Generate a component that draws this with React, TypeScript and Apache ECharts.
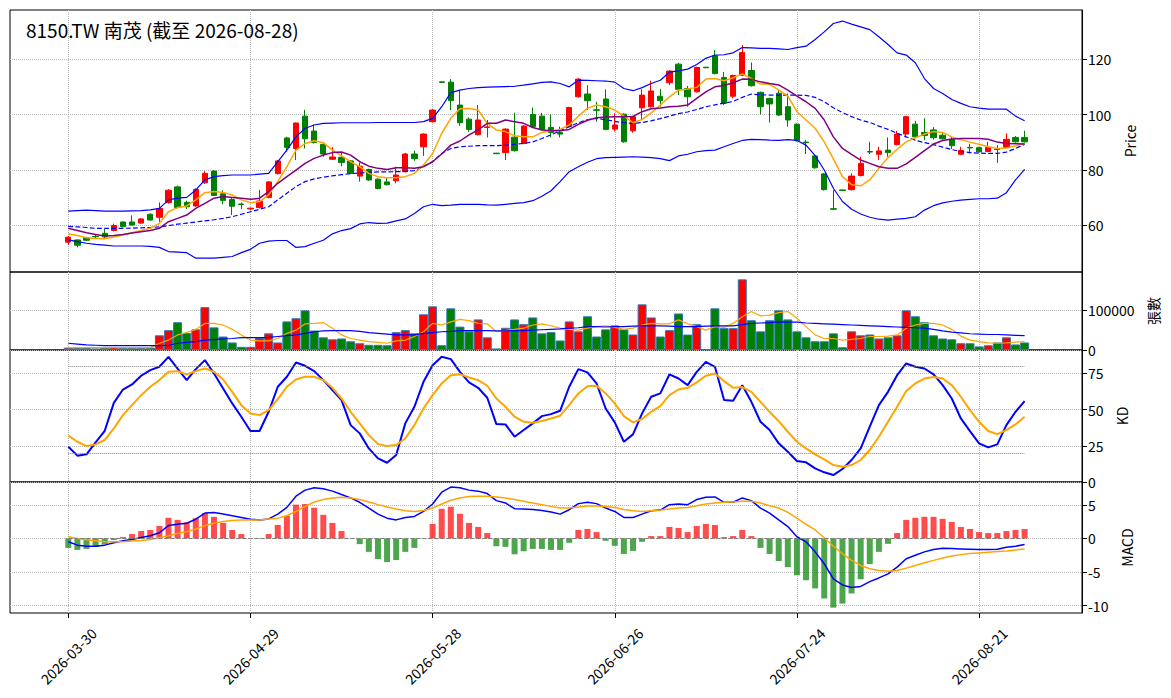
import React, { useEffect, useRef } from "react";
import * as echarts from "echarts";

// 8150.TW 南茂, 2026-03-30 .. 2026-08-28 (one value per trading day)
const tickIndex = [0, 20, 40, 60, 80, 100];
const tickLabels = ["2026-03-30", "2026-04-29", "2026-05-28", "2026-06-26", "2026-07-24", "2026-08-21"];

const opens = [
  53.9, 54.7, 55.5, 55.95, 57.1, 58.1, 61.2, 61.2, 60.8, 64.0,
  62.9, 68.2, 73.9, 68.3, 67.0, 75.4, 79.6, 71.4, 69.3, 67.7,
  65.9, 66.4, 70.1, 78.7, 91.6, 87.8, 99.5, 94.1, 89.3, 83.9,
  84.6, 83.3, 77.8, 80.2, 76.7, 75.7, 76.1, 79.4, 85.8, 88.4,
  97.5, 111.9, 111.8, 103.5, 98.4, 92.8, 95.4, 86.1, 86.3, 91.9,
  89.6, 100.1, 99.5, 95.4, 93.6, 95.7, 106.5, 107.5, 101.8, 105.7,
  94.8, 100.2, 94.2, 102.5, 102.9, 106.7, 111.6, 118.3, 109.5, 108.3,
  117.2, 121.3, 113.5, 106.7, 114.3, 116.0, 108.1, 105.9, 107.8, 102.9,
  96.6, 90.1, 85.1, 78.6, 66.0, 72.8, 72.9, 78.0, 86.7, 85.7,
  87.2, 89.2, 93.0, 96.6, 93.6, 94.5, 92.6, 91.0, 85.7, 88.2,
  88.1, 86.7, 87.6, 88.2, 91.8, 91.8,
];
const closes = [
  55.7, 52.8, 54.6, 55.85, 55.8, 59.9, 59.5, 60.1, 62.3, 61.9,
  66.1, 72.7, 66.4, 66.7, 73.0, 78.8, 70.8, 69.0, 66.9, 67.5,
  66.2, 68.8, 75.7, 83.3, 88.2, 97.0, 91.3, 90.0, 85.8, 84.7,
  82.7, 78.8, 81.4, 76.4, 73.3, 74.7, 78.2, 85.8, 84.1, 93.0,
  101.7, 111.7, 105.1, 97.1, 94.7, 98.1, 95.6, 85.9, 94.8, 87.0,
  95.9, 95.7, 94.7, 93.6, 93.0, 102.6, 112.9, 105.1, 101.6, 94.7,
  96.3, 90.2, 99.3, 107.1, 108.6, 105.1, 115.8, 109.2, 106.5, 117.1,
  117.0, 114.9, 104.1, 114.2, 122.5, 110.5, 102.9, 103.9, 99.9, 98.1,
  90.6, 89.9, 80.8, 72.9, 65.8, 72.6, 77.8, 82.4, 86.5, 86.9,
  86.3, 93.0, 99.3, 92.0, 92.5, 91.7, 91.3, 88.8, 87.1, 88.0,
  86.6, 88.2, 87.4, 91.1, 90.2, 90.2,
];
const lows = [
  52.9, 52.0, 54.3, 55.3, 55.4, 57.8, 59.3, 59.9, 60.6, 61.7,
  61.1, 67.8, 66.2, 65.9, 66.6, 75.0, 70.6, 67.6, 63.7, 65.9,
  65.6, 66.1, 69.8, 78.4, 86.6, 83.6, 87.8, 89.6, 84.8, 83.6,
  81.3, 78.5, 75.8, 76.1, 73.0, 74.4, 75.2, 79.1, 83.3, 85.1,
  97.2, 111.6, 101.7, 96.0, 93.8, 92.5, 91.8, 85.8, 83.6, 86.7,
  89.3, 95.4, 94.4, 91.8, 91.8, 95.4, 106.2, 101.7, 97.5, 94.4,
  93.9, 89.9, 93.5, 98.1, 102.6, 102.9, 110.7, 107.1, 102.9, 108.0,
  116.9, 114.6, 103.5, 105.9, 114.0, 110.2, 100.1, 97.2, 99.6, 95.7,
  90.3, 85.8, 80.5, 72.6, 65.7, 72.5, 72.6, 77.7, 85.8, 83.6,
  84.8, 88.9, 91.8, 91.7, 90.8, 91.0, 91.0, 87.6, 85.4, 86.0,
  86.3, 86.4, 82.6, 87.9, 89.9, 89.9,
];
const highs = [
  56.1, 54.9, 55.8, 56.5, 58.6, 60.6, 61.4, 63.6, 62.6, 64.3,
  68.3, 73.1, 74.4, 68.9, 73.4, 79.6, 79.9, 72.7, 70.1, 68.2,
  66.4, 72.8, 76.0, 83.6, 92.0, 97.2, 101.8, 96.5, 89.6, 88.3,
  86.5, 83.6, 82.7, 80.5, 77.0, 77.1, 81.2, 86.2, 87.0, 93.3,
  102.0, 112.0, 112.9, 108.8, 99.0, 103.5, 98.1, 86.2, 95.1, 100.7,
  96.2, 102.6, 100.7, 100.1, 95.7, 102.9, 113.2, 110.7, 104.7, 109.2,
  100.5, 100.5, 99.6, 109.2, 112.3, 109.4, 116.1, 118.8, 110.4, 117.4,
  117.3, 123.4, 115.5, 114.5, 125.2, 118.9, 108.4, 106.2, 109.3, 107.7,
  96.9, 90.9, 85.4, 78.9, 72.8, 72.9, 78.8, 84.8, 90.2, 88.4,
  91.8, 94.2, 99.6, 97.8, 98.7, 95.5, 93.5, 92.0, 88.4, 89.5,
  88.4, 90.2, 89.0, 93.3, 92.3, 94.2,
];
const volumes = [
  6000, 5000, 5000, 4000, 6000, 7000, 5000, 6000, 5000, 6000,
  37000, 50000, 70000, 43000, 52000, 108000, 57000, 34000, 19000, 8000,
  8000, 31000, 42000, 19000, 72000, 80000, 100000, 49000, 32000, 27000,
  29000, 22000, 17000, 13000, 13000, 12000, 45000, 50000, 42000, 90000,
  110000, 12000, 105000, 59000, 47000, 77000, 32000, 4000, 56000, 77000,
  65000, 82000, 42000, 45000, 24000, 72000, 47000, 85000, 34000, 52000,
  62000, 52000, 39000, 115000, 82000, 34000, 50000, 92000, 39000, 65000,
  1500, 105000, 55000, 55000, 178000, 75000, 47000, 75000, 100000, 77000,
  47000, 32000, 22000, 22000, 42000, 7000, 47000, 37000, 39000, 29000,
  32000, 37000, 100000, 85000, 70000, 37000, 29000, 27000, 17000, 17000,
  9000, 12000, 19000, 32000, 14000, 19000,
];
// volume averages, thousands of lots
const volMa5 = [
  6, 6, 6, 6, 6, 6, 6, 6, 6, 6,
  17, 25, 38, 44, 52, 67, 67, 63, 52, 38,
  25, 23, 23, 29, 42, 50, 66, 67, 69, 55,
  38, 29, 25, 21, 19, 17, 23, 25, 34, 46,
  67, 63, 71, 77, 74, 67, 66, 46, 49, 52,
  55, 63, 66, 61, 55, 52, 50, 55, 59, 61,
  57, 52, 55, 63, 67, 66, 66, 76, 66, 59,
  50, 59, 57, 67, 84, 97, 86, 88, 94, 97,
  80, 59, 38, 29, 29, 25, 27, 29, 34, 34,
  35, 38, 55, 63, 67, 67, 63, 52, 35, 25,
  21, 18, 17, 18, 20, 21,
];
const volMa20 = [
  17, 15, 13, 12, 11, 11, 11, 11, 11, 11,
  11, 12, 17, 19, 21, 25, 26, 28, 29, 31,
  31, 31, 32, 34, 36, 38, 42, 46, 48, 49,
  49, 49, 47, 44, 42, 40, 38, 38, 38, 42,
  44, 46, 47, 49, 49, 49, 49, 48, 48, 49,
  49, 50, 51, 52, 53, 55, 56, 59, 59, 58,
  59, 59, 60, 61, 61, 61, 60, 59, 59, 59,
  60, 61, 61, 61, 64, 67, 68, 69, 71, 70,
  70, 68, 67, 66, 65, 64, 63, 62, 61, 60,
  59, 58, 57, 56, 55, 52, 48, 45, 43, 41,
  40, 39, 39, 38, 37, 36,
];
const ma5 = [
  56.9, 56.3, 55.5, 55.2, 55.1, 55.8, 56.5, 57.3, 58.1, 58.9,
  60.7, 64.9, 66.4, 67.0, 69.2, 71.8, 72.2, 71.9, 71.0, 69.2,
  68.2, 68.6, 71.0, 75.8, 81.2, 87.2, 89.6, 90.6, 89.9, 87.2,
  85.1, 83.0, 81.2, 78.8, 77.6, 77.2, 77.2, 77.6, 78.8, 81.8,
  86.0, 93.3, 98.7, 102.2, 102.3, 101.7, 96.9, 94.5, 93.9, 92.4,
  92.0, 92.0, 93.6, 94.2, 94.7, 96.3, 99.5, 102.3, 103.5, 102.9,
  101.7, 99.5, 97.1, 98.3, 100.7, 103.5, 106.5, 108.9, 109.3, 109.9,
  112.9, 113.1, 112.3, 113.4, 114.8, 113.1, 111.1, 111.0, 109.0, 106.7,
  101.1, 98.1, 95.1, 90.2, 84.0, 77.6, 74.7, 74.3, 76.4, 80.6,
  84.5, 87.5, 90.2, 91.7, 93.0, 93.9, 93.6, 92.0, 91.0, 90.1,
  89.3, 88.4, 87.8, 88.0, 88.7, 89.6,
];
const ma10 = [
  58.9, 58.1, 57.3, 56.7, 56.1, 56.3, 56.7, 57.2, 57.7, 58.1,
  58.9, 61.3, 62.5, 63.7, 66.1, 67.9, 69.8, 70.4, 70.1, 69.8,
  69.4, 69.8, 72.2, 75.2, 77.6, 80.0, 82.4, 84.2, 85.4, 86.3,
  86.5, 85.4, 83.0, 81.4, 80.6, 80.2, 80.8, 80.8, 80.6, 81.2,
  83.0, 85.8, 89.0, 90.5, 92.7, 94.5, 96.9, 96.9, 98.1, 97.5,
  96.9, 95.4, 94.5, 94.2, 94.2, 94.7, 96.5, 98.0, 98.9, 99.2,
  99.3, 99.3, 99.4, 101.1, 102.2, 102.4, 102.9, 103.1, 103.5, 105.9,
  108.3, 110.1, 110.6, 111.6, 112.9, 112.8, 111.9, 111.3, 110.8, 108.9,
  106.7, 104.7, 102.3, 98.1, 92.0, 87.8, 85.7, 83.6, 82.4, 81.2,
  80.6, 80.6, 82.2, 84.6, 87.0, 89.4, 90.7, 91.2, 91.4, 91.4,
  91.4, 91.1, 90.1, 89.6, 89.5, 89.4,
];
const bbUpper = [
  65.1, 65.3, 65.5, 65.3, 65.1, 65.1, 65.1, 65.2, 65.3, 65.6,
  66.1, 69.2, 69.8, 70.1, 72.8, 76.4, 77.6, 78.0, 78.2, 78.2,
  78.2, 78.5, 78.8, 83.0, 87.2, 92.0, 95.1, 96.3, 96.9, 97.0,
  97.1, 97.1, 97.1, 97.1, 97.2, 97.2, 97.2, 97.2, 97.2, 97.5,
  98.7, 102.9, 108.0, 108.9, 109.5, 109.8, 110.0, 110.1, 110.2, 110.3,
  110.7, 111.2, 111.7, 111.9, 111.3, 110.1, 112.5, 112.4, 112.3, 112.2,
  111.8, 109.5, 108.7, 109.8, 111.3, 112.5, 115.4, 115.9, 116.5, 118.2,
  120.4, 121.6, 121.7, 122.4, 124.3, 124.2, 124.0, 124.0, 123.8, 123.6,
  124.3, 124.8, 127.2, 130.0, 133.0, 133.9, 132.8, 131.8, 130.8, 128.2,
  125.4, 122.4, 121.6, 118.8, 113.1, 109.5, 107.7, 105.5, 104.1, 102.9,
  102.4, 102.0, 102.0, 102.0, 99.5, 97.8,
];
const bbMid = [
  59.6, 59.4, 59.2, 58.9, 58.9, 58.9, 58.9, 59.0, 59.1, 59.2,
  59.4, 59.9, 60.4, 60.8, 61.2, 61.6, 62.0, 62.5, 63.1, 64.0,
  64.9, 65.8, 66.7, 69.2, 71.6, 74.0, 75.8, 76.8, 77.4, 77.9,
  78.3, 78.7, 78.9, 79.2, 79.3, 79.3, 79.4, 79.5, 79.8, 81.2,
  83.0, 86.0, 87.8, 88.4, 88.6, 88.8, 88.8, 88.8, 89.0, 89.3,
  89.6, 90.2, 91.4, 92.7, 94.2, 95.7, 97.1, 98.2, 98.7, 98.2,
  97.6, 97.1, 96.9, 97.2, 97.8, 98.6, 99.5, 100.4, 101.0, 101.9,
  102.9, 103.6, 104.2, 104.8, 106.3, 107.5, 107.2, 107.1, 107.1, 107.1,
  107.1, 107.0, 106.3, 104.7, 102.5, 100.8, 99.3, 98.1, 97.2, 95.9,
  94.7, 93.3, 92.0, 90.8, 89.9, 89.2, 88.3, 87.4, 86.7, 86.3,
  86.1, 86.0, 86.0, 86.5, 87.8, 89.3,
];
const bbLower = [
  54.7, 54.1, 53.5, 53.1, 52.8, 52.5, 52.5, 52.5, 52.5, 52.4,
  52.0, 50.5, 50.3, 50.1, 48.1, 48.1, 48.1, 48.4, 48.7, 50.1,
  51.3, 53.5, 54.3, 54.5, 54.5, 52.0, 52.3, 53.5, 54.6, 56.9,
  58.1, 58.8, 60.5, 61.0, 60.7, 60.8, 61.6, 62.3, 64.3, 66.7,
  67.6, 67.1, 67.3, 67.6, 67.6, 67.6, 67.4, 67.3, 67.6, 67.9,
  68.2, 68.9, 70.5, 72.5, 75.8, 79.4, 81.2, 82.8, 84.1, 84.5,
  84.6, 84.7, 84.8, 84.7, 84.5, 84.1, 83.4, 85.1, 85.7, 86.6,
  87.0, 87.2, 88.4, 89.6, 90.7, 91.1, 91.0, 90.8, 90.7, 91.0,
  90.7, 89.0, 85.2, 80.0, 73.4, 68.6, 65.8, 64.1, 62.9, 62.2,
  61.9, 62.2, 62.5, 63.1, 65.5, 67.1, 68.1, 68.7, 69.1, 69.4,
  69.6, 69.6, 69.8, 71.8, 76.4, 80.2,
];
const kLine = [
  24.4, 18.2, 19.1, 27.4, 35.4, 54.7, 63.9, 67.4, 73.4, 77.3,
  79.6, 86.5, 78.4, 70.4, 78.0, 84.2, 75.0, 64.6, 54.3, 45.1,
  35.2, 35.2, 48.5, 65.8, 72.7, 82.6, 80.3, 76.6, 70.4, 63.5,
  56.6, 39.3, 33.6, 23.2, 16.3, 13.3, 18.6, 40.5, 52.0, 69.2,
  80.7, 86.5, 84.9, 76.1, 68.8, 65.1, 58.2, 40.0, 39.8, 31.3,
  35.9, 40.5, 45.5, 46.9, 49.2, 65.8, 78.0, 75.7, 68.1, 50.8,
  41.2, 27.8, 32.9, 47.4, 58.9, 61.2, 74.3, 71.5, 66.9, 76.1,
  83.0, 79.6, 56.6, 56.1, 66.9, 55.4, 41.6, 35.9, 26.7, 20.9,
  14.5, 13.6, 9.4, 6.7, 4.8, 9.0, 15.2, 23.2, 38.2, 53.1,
  62.3, 73.8, 81.9, 79.6, 78.4, 74.3, 66.9, 57.7, 43.9, 35.2,
  26.7, 23.9, 26.0, 39.3, 48.5, 55.9,
];
const dLine = [
  32.0, 27.8, 24.8, 26.0, 29.0, 37.0, 46.2, 53.1, 60.0, 65.8,
  70.4, 76.1, 76.6, 74.3, 76.6, 78.4, 76.1, 70.8, 62.3, 53.1,
  47.4, 46.2, 49.7, 57.3, 65.8, 70.8, 72.7, 72.7, 70.4, 65.1,
  57.7, 48.5, 40.5, 32.4, 26.2, 24.8, 25.5, 30.1, 39.3, 50.8,
  60.0, 68.1, 73.8, 74.5, 72.2, 70.4, 66.5, 57.7, 52.0, 45.1,
  41.6, 40.9, 42.1, 43.9, 45.8, 53.1, 61.2, 66.2, 66.5, 61.2,
  54.3, 45.5, 41.2, 43.5, 48.5, 52.4, 60.0, 63.9, 65.1, 68.8,
  73.4, 75.0, 69.7, 65.1, 65.6, 62.3, 55.4, 48.5, 42.0, 34.7,
  27.8, 23.2, 19.1, 15.6, 11.7, 10.6, 11.7, 15.2, 22.1, 31.3,
  41.6, 52.0, 62.8, 68.1, 71.5, 72.5, 71.5, 66.9, 58.9, 49.7,
  41.6, 35.2, 33.1, 35.9, 39.8, 45.1,
];
const kdLevels = [20, 80];
const dif = [
  -0.5, -1.0, -1.16, -1.16, -1.0, -0.65, -0.35, -0.15, 0.15, 0.4,
  0.85, 1.91, 2.11, 2.26, 2.86, 3.77, 3.87, 3.62, 3.37, 3.12,
  2.86, 2.76, 2.91, 3.62, 4.62, 6.28, 7.19, 7.54, 7.39, 7.04,
  6.53, 6.03, 5.38, 4.52, 3.62, 3.02, 2.76, 3.12, 3.27, 4.02,
  5.13, 6.88, 7.64, 7.54, 7.19, 7.04, 6.68, 5.63, 5.28, 4.42,
  4.37, 4.32, 4.17, 3.92, 3.62, 4.27, 5.18, 5.38, 5.18, 4.52,
  4.02, 3.12, 3.12, 3.62, 4.12, 4.22, 5.03, 5.13, 5.03, 5.78,
  6.13, 6.18, 5.38, 5.38, 6.03, 5.63, 4.52, 3.77, 2.76, 1.76,
  0.25, -0.5, -2.0, -3.77, -6.03, -6.93, -7.29, -7.14, -6.43, -5.88,
  -5.28, -4.27, -3.02, -2.51, -2.0, -1.66, -1.46, -1.51, -1.56, -1.61,
  -1.66, -1.66, -1.61, -1.31, -1.16, -0.9,
];
const dea = [
  0.25, 0.0, -0.2, -0.35, -0.5, -0.5, -0.5, -0.4, -0.3, -0.15,
  0.1, 0.4, 0.75, 1.0, 1.41, 1.91, 2.26, 2.51, 2.66, 2.76,
  2.76, 2.76, 2.91, 3.02, 3.37, 4.02, 4.77, 5.43, 5.78, 6.03,
  6.13, 6.03, 5.78, 5.43, 5.03, 4.67, 4.37, 4.12, 4.02, 4.17,
  4.52, 5.13, 5.68, 6.03, 6.23, 6.28, 6.28, 6.18, 6.03, 5.78,
  5.53, 5.28, 5.03, 4.77, 4.52, 4.52, 4.67, 4.82, 4.82, 4.77,
  4.62, 4.32, 4.12, 4.02, 4.12, 4.22, 4.37, 4.52, 4.62, 4.87,
  5.13, 5.28, 5.38, 5.43, 5.53, 5.53, 5.28, 4.87, 4.52, 3.87,
  3.02, 2.11, 1.26, 0.1, -1.16, -2.26, -3.27, -4.02, -4.52, -4.77,
  -4.87, -4.77, -4.42, -4.02, -3.62, -3.27, -2.91, -2.61, -2.41, -2.26,
  -2.16, -2.06, -1.96, -1.86, -1.71, -1.56,
];
const macdHist = [
  -1.41, -1.71, -1.56, -1.26, -0.9, -0.25, 0.2, 0.65, 1.1, 1.26,
  1.86, 3.07, 2.76, 2.41, 3.0, 3.77, 3.22, 2.31, 1.26, 0.65,
  0.03, -0.05, 0.65, 2.0, 3.37, 5.03, 5.13, 4.57, 3.52, 2.31,
  1.1, -0.03, -0.85, -2.0, -3.07, -3.52, -3.22, -2.0, -1.41, -0.05,
  2.16, 4.42, 4.72, 3.67, 2.31, 1.71, 0.8, -1.16, -1.26, -2.36,
  -1.91, -1.56, -1.56, -1.71, -1.71, -0.65, 1.26, 1.41, 0.95, -0.35,
  -1.1, -2.31, -1.86, -0.5, 0.35, 0.35, 1.71, 1.56, 0.95, 1.86,
  2.16, 2.0, 0.2, 0.35, 1.26, 0.35, -1.41, -2.31, -3.37, -4.27,
  -5.48, -6.23, -7.44, -8.94, -10.3, -9.7, -8.19, -6.08, -3.82, -2.0,
  -0.8, 0.8, 2.76, 3.07, 3.22, 3.22, 2.91, 2.46, 1.71, 1.41,
  0.95, 0.8, 0.8, 1.1, 1.26, 1.41,
];

const FONT = "Noto Sans CJK TC";
const GRID_LINE = { color: "#b8b8b8", type: "dotted" as const, width: 1 };
const lastIdx = closes.length - 1;

const xAxisFor = (gridIndex: number, bottom: boolean) => ({
  type: "value" as const,
  gridIndex,
  min: -6.4,
  max: 111.3,
  axisLine: { show: false, onZero: false },
  axisTick: { show: bottom, customValues: tickIndex, length: 5, lineStyle: { color: "#000" } },
  axisLabel: {
    show: bottom,
    customValues: tickIndex,
    rotate: 45,
    align: "center" as const,
    verticalAlign: "middle" as const,
    margin: 43,
    fontSize: 14,
    color: "#000",
    fontFamily: FONT,
    formatter: (v: number) => tickLabels[tickIndex.indexOf(Math.round(v))] ?? "",
  },
  splitLine: { show: true, lineStyle: GRID_LINE },
});

const yAxisFor = (gridIndex: number, min: number, max: number, ticks: number[], name: string, nameGap: number) => ({
  type: "value" as const,
  gridIndex,
  position: "right" as const,
  min,
  max,
  name,
  nameLocation: "middle" as const,
  nameRotate: 90,
  nameGap,
  nameTextStyle: { fontSize: 14, color: "#000", fontFamily: FONT },
  axisLine: { show: true, onZero: false, lineStyle: { color: "#000" } },
  axisTick: { show: true, customValues: ticks, length: 5, lineStyle: { color: "#000" } },
  axisLabel: {
    customValues: ticks,
    fontSize: 14,
    color: "#000",
    fontFamily: FONT,
    margin: 6,
    formatter: (v: number) => String(v),
  },
  splitLine: { show: true, lineStyle: GRID_LINE },
});

const lineSeries = (name: string, values: number[], color: string, width: number, axis: number, dashed = false) => ({
  name,
  type: "line" as const,
  xAxisIndex: axis,
  yAxisIndex: axis,
  data: values.map((v, i) => [i, v]),
  showSymbol: false,
  silent: true,
  lineStyle: { color, width, type: dashed ? ("dashed" as const) : ("solid" as const) },
});

const App = () => {
  const chartContainer = useRef<HTMLDivElement>(null);

  useEffect(() => {
    if (!chartContainer.current) return;
    const chart = echarts.init(chartContainer.current, null, { renderer: "svg" });

    const option: echarts.EChartsOption = {
      animation: false,
      backgroundColor: "#fff",
      textStyle: { fontFamily: FONT },
      title: {
        text: "8150.TW 南茂 (截至 2026-08-28)",
        left: 26,
        top: 20,
        padding: 0,
        textStyle: { fontSize: 19, fontWeight: "normal", color: "#000", fontFamily: FONT },
      },
      grid: [
        { left: 10, right: 89, top: 10, height: 262, show: true, borderColor: "#000", borderWidth: 1 },
        { left: 10, right: 89, top: 272, height: 78, show: true, borderColor: "#000", borderWidth: 1 },
        { left: 10, right: 89, top: 350, height: 132, show: true, borderColor: "#000", borderWidth: 1 },
        { left: 10, right: 89, top: 482, height: 131, show: true, borderColor: "#000", borderWidth: 1 },
      ],
      xAxis: [xAxisFor(0, false), xAxisFor(1, false), xAxisFor(2, false), xAxisFor(3, true)],
      yAxis: [
        yAxisFor(0, 43.1, 137.9, [60, 80, 100, 120], "Price", 41),
        yAxisFor(1, 0, 196500, [0, 100000], "張數", 63),
        yAxisFor(2, 0, 91.2, [0, 25, 50, 75], "KD", 33),
        yAxisFor(3, -11.1, 8.4, [-10, -5, 0, 5], "MACD", 38),
      ],
      series: [
        {
          name: "K線",
          type: "candlestick",
          xAxisIndex: 0,
          yAxisIndex: 0,
          barWidth: 5.8,
          encode: { x: 0, y: [1, 2, 3, 4] },
          data: opens.map((o, i) => [i, o, closes[i], lows[i], highs[i]]),
          itemStyle: { color: "#ff0000", color0: "#008000", borderColor: "#ff0000", borderColor0: "#008000", borderWidth: 1 },
        },
        lineSeries("BB上軌", bbUpper, "#0000ff", 1.2, 0),
        lineSeries("BB中軌", bbMid, "#0000ff", 1.2, 0, true),
        lineSeries("BB下軌", bbLower, "#0000ff", 1.2, 0),
        lineSeries("MA5", ma5, "#ffa500", 1.5, 0),
        lineSeries("MA10", ma10, "#800080", 1.5, 0),
        {
          name: "成交量",
          type: "bar",
          xAxisIndex: 1,
          yAxisIndex: 1,
          barWidth: 9,
          data: volumes.map((v, i) => ({
            value: [i, v],
            itemStyle: { color: closes[i] >= opens[i] ? "#ff0000" : "#008000" },
          })),
          itemStyle: { borderColor: "#2e78b4", borderWidth: 1 },
        },
        lineSeries("量MA5", volMa5.map((v) => v * 1000), "#ffa500", 1.2, 1),
        lineSeries("量MA20", volMa20.map((v) => v * 1000), "#0000ff", 1.2, 1),
        {
          ...lineSeries("K", kLine, "#0000ff", 2, 2),
          markLine: {
            silent: true,
            symbol: "none",
            label: { show: false },
            lineStyle: { color: "#808080", type: "dotted", width: 1 },
            data: kdLevels.map((lv) => [{ coord: [0, lv] }, { coord: [lastIdx, lv] }]) as any,
          },
        },
        lineSeries("D", dLine, "#ffa500", 2, 2),
        {
          name: "OSC",
          type: "bar",
          xAxisIndex: 3,
          yAxisIndex: 3,
          barWidth: 6,
          data: macdHist.map((v, i) => ({
            value: [i, v],
            itemStyle: { color: v >= 0 ? "rgba(255,0,0,0.7)" : "rgba(0,128,0,0.7)" },
          })),
          markLine: {
            silent: true,
            symbol: "none",
            label: { show: false },
            lineStyle: { color: "#808080", type: "dashed", width: 1 },
            data: [[{ coord: [0, 0] }, { coord: [lastIdx, 0] }]] as any,
          },
        },
        lineSeries("DIF", dif, "#0000ff", 1.5, 3),
        lineSeries("MACD", dea, "#ffa500", 1.5, 3),
      ],
    };

    chart.setOption(option);
    return () => {
      chart.dispose();
    };
  }, []);

  return (
    <div
      ref={chartContainer}
      style={{ position: "fixed", left: 0, top: 0, width: 1171, height: 698, background: "#fff" }}
    />
  );
};

export default App;
